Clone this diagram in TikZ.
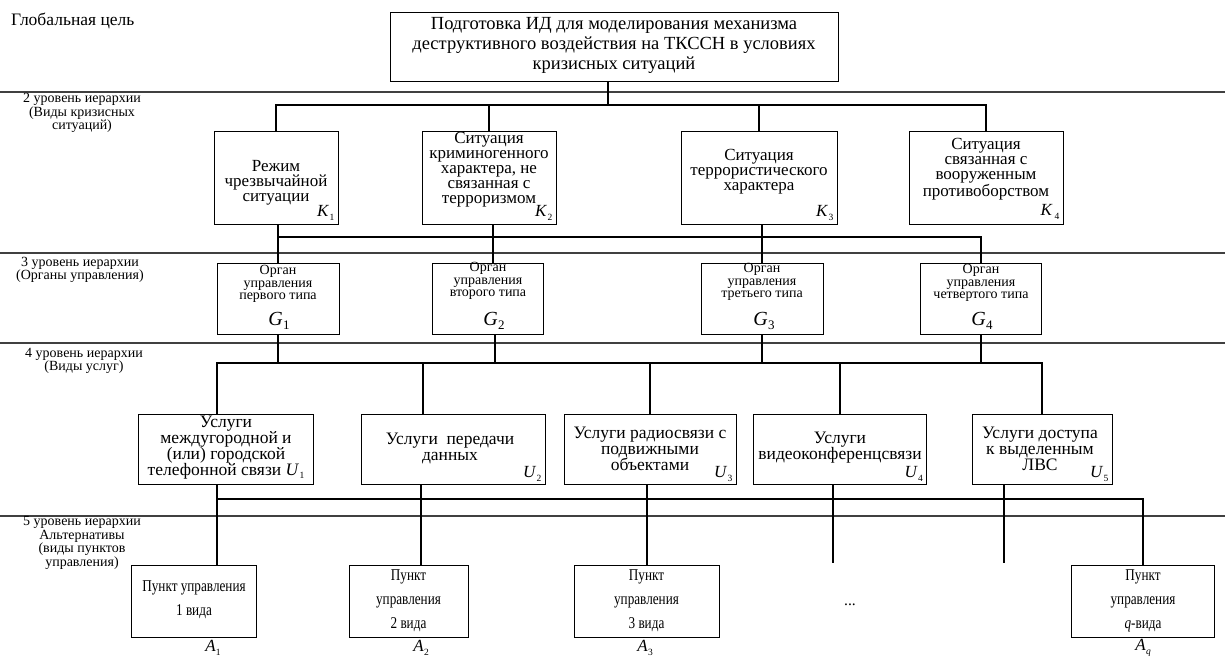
\documentclass[tikz,border=0pt]{standalone}
\usepackage{fontspec}
\setmainfont{Liberation Serif}
\newfontfamily\condfont[FakeStretch=0.8]{Liberation Serif}
\newcommand{\mysub}[2]{\textit{#1}\kern0.3pt\raisebox{-0.45ex}{\fontsize{9.5}{9.5}\selectfont #2}}
\newcommand{\mysubG}[2]{{\fontsize{20}{20}\selectfont\textit{#1}\kern0.3pt\raisebox{-0.45ex}{\fontsize{13}{13}\selectfont #2}}}
\begin{document}
\begin{tikzpicture}[x=1pt,y=-1pt,
  box/.style={draw, line width=1pt, inner sep=0pt},
  conn/.style={line width=1.6pt},
  sepline/.style={line width=1.2pt, black!75},
  lvl/.style={align=center, inner sep=0pt, font=\fontsize{14}{12}\selectfont},
  ttop/.style={align=center, inner sep=0pt, font=\fontsize{18.5}{20}\selectfont},
  tk/.style={align=center, inner sep=0pt, font=\fontsize{17}{15}\selectfont},
  tg/.style={align=center, inner sep=0pt, font=\fontsize{14}{12.5}\selectfont},
  tu/.style={align=center, inner sep=0pt, font=\fontsize{17.5}{16}\selectfont},
  ta/.style={align=center, inner sep=0pt, font=\condfont\fontsize{16.5}{24}\selectfont},
  lab/.style={inner sep=0pt, font=\fontsize{17}{17}\selectfont}]
\useasboundingbox (0,0) rectangle (1225,659);

% separator lines
\coordinate (s1a) at (0,92);   \coordinate (s1b) at (1225,92);
\coordinate (s2a) at (0,253);  \coordinate (s2b) at (1225,253);
\coordinate (s3a) at (0,343);  \coordinate (s3b) at (1225,343);
\coordinate (s4a) at (0,516);  \coordinate (s4b) at (1225,516);
\draw[sepline] (s1a) -- (s1b);
\draw[sepline] (s2a) -- (s2b);
\draw[sepline] (s3a) -- (s3b);
\draw[sepline] (s4a) -- (s4b);

% level labels
\node[inner sep=0pt, anchor=west, font=\fontsize{17.5}{17.5}\selectfont] (L1) at (11,21) {Глобальная цель};
\node[lvl] (L2) at (82,113) {2 уровень иерархии\\(Виды кризисных\\ситуаций)};
\node[lvl] (L3) at (80,270) {3 уровень иерархии\\(Органы управления)};
\node[lvl] (L4) at (84,361) {4 уровень иерархии\\(Виды услуг)};
\node[lvl] (L5) at (82,543) {5 уровень иерархии\\Альтернативы\\(виды пунктов\\управления)};

% top box
\node[box, minimum width=448pt, minimum height=69pt] (T) at (614,46.5) {};
\node[ttop] (Tt) at (614,45) {Подготовка ИД для моделирования механизма\\деструктивного воздействия на ТКССН в условиях\\кризисных ситуаций};

% level 2
\node[box, minimum width=124pt, minimum height=93pt] (K1) at (276,178.3) {};
\node[box, minimum width=134pt, minimum height=93pt] (K2) at (489,178.3) {};
\node[box, minimum width=156pt, minimum height=93pt] (K3) at (759,178.3) {};
\node[box, minimum width=154pt, minimum height=93pt] (K4) at (986,178.3) {};
\node[tk] (K1t) at (276,183) {Режим\\чрезвычайной\\ситуации};
\node[tk] (K2t) at (489,170) {Ситуация\\криминогенного\\характера, не\\связанная с\\терроризмом};
\node[tk] (K3t) at (759,172) {Ситуация\\террористического\\характера};
\node[tk] (K4t) at (986,169) {Ситуация\\связанная с\\вооруженным\\противоборством};
\node[lab, anchor=south east] (K1l) at ([xshift=-4pt,yshift=5pt]K1.south east) {\mysub{K}{1}};
\node[lab, anchor=south east] (K2l) at ([xshift=-4pt,yshift=5pt]K2.south east) {\mysub{K}{2}};
\node[lab, anchor=south east] (K3l) at ([xshift=-4pt,yshift=5pt]K3.south east) {\mysub{K}{3}};
\node[lab, anchor=south east] (K4l) at ([xshift=-4pt,yshift=6pt]K4.south east) {\mysub{K}{\,4}};

% level 3
\node[box, minimum width=122pt, minimum height=71pt] (G1) at (278,298.5) {};
\node[box, minimum width=111pt, minimum height=71pt] (G2) at (488,298.5) {};
\node[box, minimum width=122pt, minimum height=71pt] (G3) at (762,298.5) {};
\node[box, minimum width=121pt, minimum height=71pt] (G4) at (981,298.5) {};
\node[tg] (G1t) at (278,284) {Орган\\управления\\первого типа};
\node[tg] (G2t) at (488,281) {Орган\\управления\\второго типа};
\node[tg] (G3t) at (762,282) {Орган\\управления\\третьего типа};
\node[tg] (G4t) at (981,283) {Орган\\управления\\четвертого типа};
\node[inner sep=0pt] (G1l) at (279,321) {\mysubG{G}{1}};
\node[inner sep=0pt] (G2l) at (494,321) {\mysubG{G}{2}};
\node[inner sep=0pt] (G3l) at (764,321) {\mysubG{G}{3}};
\node[inner sep=0pt] (G4l) at (982,321) {\mysubG{G}{4}};

% level 4
\node[box, minimum width=175.6pt, minimum height=70pt] (U1) at (226,449) {};
\node[box, minimum width=184pt, minimum height=70pt] (U2) at (453,449) {};
\node[box, minimum width=172pt, minimum height=70pt] (U3) at (650,449) {};
\node[box, minimum width=173pt, minimum height=70pt] (U4) at (840,449) {};
\node[box, minimum width=140pt, minimum height=70pt] (U5) at (1042,449) {};
\node[tu] (U1t) at (226,447.5) {Услуги\\междугородной и\\(или) городской\\телефонной связи \mysub{U}{1}};
\node[tu] (U2t) at (450,448) {Услуги\ \ передачи\\данных};
\node[tu] (U3t) at (650,449) {Услуги радиосвязи с\\подвижными\\объектами};
\node[tu] (U4t) at (840,448) {Услуги\\видеоконференцсвязи};
\node[tu] (U5t) at (1040,449) {Услуги доступа\\к выделенным\\ЛВС};
\node[lab, anchor=south east] (U2l) at ([xshift=-4pt,yshift=3pt]U2.south east) {\mysub{U}{2}};
\node[lab, anchor=south east] (U3l) at ([xshift=-4pt,yshift=3pt]U3.south east) {\mysub{U}{3}};
\node[lab, anchor=south east] (U4l) at ([xshift=-4pt,yshift=3pt]U4.south east) {\mysub{U}{4}};
\node[lab, anchor=south east] (U5l) at ([xshift=-4pt,yshift=3pt]U5.south east) {\mysub{U}{5}};

% level 5
\node[box, minimum width=125pt, minimum height=72pt] (A1) at (194,601) {};
\node[box, minimum width=119pt, minimum height=72pt] (A2) at (408.5,601) {};
\node[box, minimum width=145pt, minimum height=72pt] (A3) at (646.5,601) {};
\node[box, minimum width=143pt, minimum height=72pt] (Aq) at (1143,601) {};
\node[ta] (A1t) at (194,600) {Пункт управления\\1 вида};
\node[ta] (A2t) at (408.5,601) {Пункт\\управления\\2 вида};
\node[ta] (A3t) at (646.5,601) {Пункт\\управления\\3 вида};
\node[ta] (Aqt) at (1143,601) {Пункт\\управления\\\textit{q}-вида};
\node[inner sep=0pt, font=\fontsize{15.5}{15.5}\selectfont] (dots) at (850,605) {...};
\node[lab] (A1l) at (213,648) {\mysub{A}{1}};
\node[lab] (A2l) at (421,648) {\mysub{A}{2}};
\node[lab] (A3l) at (645,648) {\mysub{A}{3}};
\node[lab] (Aql) at (1143,648) {\mysub{A}{\textit{q}}};

% connectors level 1-2
\coordinate (b2) at (0,105);
\draw[conn] ([xshift=-6pt]T.south) -- ([xshift=-6pt]T.south |- b2);
\draw[conn] (K1.north) -- (K1.north |- b2) -- (K4.north |- b2) -- (K4.north);
\draw[conn] (K2.north) -- (K2.north |- b2);
\draw[conn] (K3.north) -- (K3.north |- b2);

% connectors level 2-3
\coordinate (b3) at (0,237);
\draw[conn] (G1.north |- K1.south) -- (G1.north);
\draw[conn] ([xshift=5pt]G2.north |- K2.south) -- ([xshift=5pt]G2.north);
\draw[conn] (G3.north |- K3.south) -- (G3.north);
\draw[conn] (G1.north |- b3) -- (G4.north |- b3) -- (G4.north);

% connectors level 3-4
\coordinate (b4) at (0,363);
\draw[conn] (G1.south) -- (G1.south |- b4);
\draw[conn] ([xshift=7pt]G2.south) -- ([xshift=7pt]G2.south |- b4);
\draw[conn] (G3.south) -- (G3.south |- b4);
\draw[conn] (G4.south) -- (G4.south |- b4);
\draw[conn] ([xshift=-9pt]U1.north) -- ([xshift=-9pt]U1.north |- b4) -- (U5.north |- b4) -- (U5.north);
\draw[conn] ([xshift=-30pt]U2.north) -- ([xshift=-30pt]U2.north |- b4);
\draw[conn] (U3.north) -- (U3.north |- b4);
\draw[conn] (U4.north) -- (U4.north |- b4);

% connectors level 4-5
\coordinate (b5) at (0,499);
\coordinate (e1) at (0,563);
\draw[conn] ([xshift=-9pt]U1.south) -- ([xshift=-9pt]U1.south |- A1.north);
\draw[conn] ([xshift=-32pt]U2.south) -- ([xshift=-32pt]U2.south |- A2.north);
\draw[conn] ([xshift=-3pt]U3.south) -- ([xshift=-3pt]U3.south |- A3.north);
\draw[conn] ([xshift=-7pt]U4.south) -- ([xshift=-7pt]U4.south |- e1);
\draw[conn] ([xshift=-38pt]U5.south) -- ([xshift=-38pt]U5.south |- e1);
\draw[conn] ([xshift=-9pt]U1.south |- b5) -- (Aq.north |- b5) -- (Aq.north);
\end{tikzpicture}
\end{document}
